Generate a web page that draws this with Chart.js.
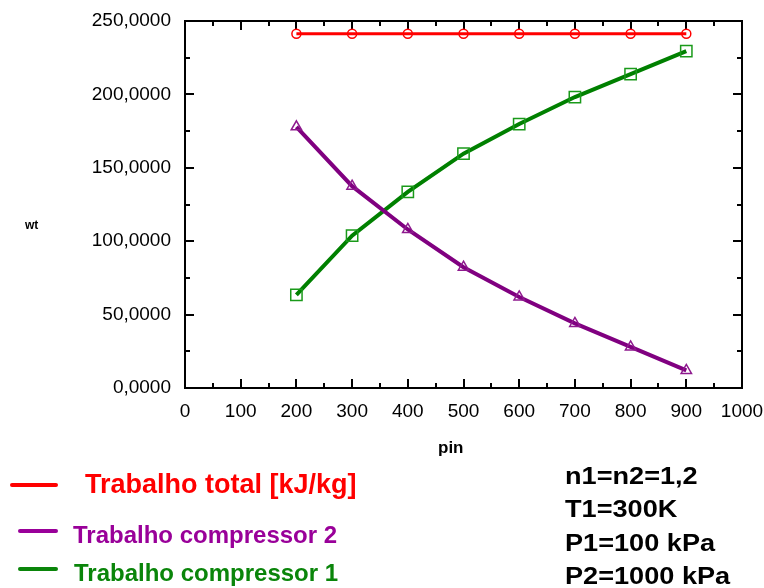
<!DOCTYPE html>
<html>
<head>
<meta charset="utf-8">
<script src="https://cdn.jsdelivr.net/npm/chart.js@4/dist/chart.umd.min.js"></script>
<style>
  body { margin: 0; background: #fff; }
  #wrap { position: relative; width: 764px; height: 588px; overflow: hidden; font-family: "Liberation Sans", Arial, sans-serif; }
  #chart { position: absolute; left: 0; top: 0; }
  .txt { position: absolute; white-space: nowrap; line-height: 1; font-weight: bold; }
  .key { position: absolute; border-radius: 2px; }
  .note { font-size: 24px; color: #000; transform: scaleX(1.13); transform-origin: left top; left: 565px; }
</style>
</head>
<body>
<div id="wrap">
  <canvas id="chart" width="764" height="588"></canvas>
  <div class="txt" style="left:25px;top:219px;font-size:12px;">wt</div>
  <div class="txt" style="left:438px;top:439px;font-size:17px;">pin</div>

  <div class="key" style="left:10px;top:483px;width:48px;height:4px;background:#ff0000;"></div>
  <div class="txt" style="left:85px;top:471px;font-size:27px;color:#ff0000;">Trabalho total [kJ/kg]</div>
  <div class="key" style="left:18px;top:529px;width:40px;height:4px;background:#990099;"></div>
  <div class="txt" style="left:73px;top:523px;font-size:24px;color:#990099;">Trabalho compressor 2</div>
  <div class="key" style="left:18px;top:567px;width:40px;height:4px;background:#0a850a;"></div>
  <div class="txt" style="left:74px;top:561px;font-size:24px;color:#0a850a;">Trabalho compressor 1</div>

  <div class="txt note" style="top:464px;">n1=n2=1,2</div>
  <div class="txt note" style="top:497px;">T1=300K</div>
  <div class="txt note" style="top:531px;">P1=100 kPa</div>
  <div class="txt note" style="top:564px;">P2=1000 kPa</div>
</div>
<script>
const pin = [200, 300, 400, 500, 600, 700, 800, 900];
const trabalhoTotal = [241.3, 241.3, 241.3, 241.3, 241.3, 241.3, 241.3, 241.3];
const trabalhoComp2 = [177.9, 137.5, 108.0, 82.3, 62.0, 44.0, 28.0, 12.0];
const trabalhoComp1 = [63.5, 103.8, 133.6, 159.6, 179.8, 198.2, 213.8, 229.5];
const xTickLabels = ['0', '100', '200', '300', '400', '500', '600', '700', '800', '900', '1000'];
const yTickLabels = ['0,0000', '50,0000', '100,0000', '150,0000', '200,0000', '250,0000'];

function toPoints(values) {
  return values.map((v, i) => ({x: pin[i], y: v}));
}

// moldura e marcas de escala para dentro, nos quatro lados
const frameTicks = {
  id: 'frameTicks',
  beforeDatasetsDraw(chart) {
    const ctx = chart.ctx;
    const {left, right, top, bottom} = chart.chartArea;
    const sx = chart.scales.x, sy = chart.scales.y;
    ctx.save();
    ctx.strokeStyle = '#000';
    ctx.lineWidth = 2;
    for (let v = sx.min; v <= sx.max; v += 50) {
      const px = Math.round(sx.getPixelForValue(v));
      const len = v % 100 === 0 ? 9 : 5;
      ctx.beginPath();
      ctx.moveTo(px, bottom); ctx.lineTo(px, bottom - len);
      ctx.moveTo(px, top); ctx.lineTo(px, top + len);
      ctx.stroke();
    }
    for (let v = sy.min; v <= sy.max; v += 25) {
      const py = Math.round(sy.getPixelForValue(v));
      const len = v % 50 === 0 ? 9 : 5;
      ctx.beginPath();
      ctx.moveTo(left, py); ctx.lineTo(left + len, py);
      ctx.moveTo(right, py); ctx.lineTo(right - len, py);
      ctx.stroke();
    }
    ctx.strokeRect(left, top, right - left, bottom - top);
    ctx.restore();
  }
};

const tickFont = {family: '"Liberation Sans", Arial, sans-serif', size: 19};

new Chart(document.getElementById('chart'), {
  type: 'line',
  data: {
    datasets: [
      {label: 'Trabalho total [kJ/kg]', data: toPoints(trabalhoTotal), borderColor: '#ff0000', borderWidth: 3,
       pointStyle: 'circle', pointRadius: 4.5, pointBorderColor: '#ff0000', pointBackgroundColor: 'rgba(0,0,0,0)', pointBorderWidth: 1.5},
      {label: 'Trabalho compressor 2', data: toPoints(trabalhoComp2), borderColor: '#800080', borderWidth: 4,
       pointStyle: 'triangle', pointRadius: 6, pointBorderColor: '#8e1a8e', pointBackgroundColor: 'rgba(0,0,0,0)', pointBorderWidth: 1.5},
      {label: 'Trabalho compressor 1', data: toPoints(trabalhoComp1), borderColor: '#008000', borderWidth: 4,
       pointStyle: 'rect', pointRadius: 8, pointBorderColor: '#1a9a1a', pointBackgroundColor: 'rgba(0,0,0,0)', pointBorderWidth: 1.5}
    ]
  },
  options: {
    responsive: false,
    animation: false,
    layout: {padding: {top: 21, right: 22, bottom: 0, left: 0}},
    plugins: {legend: {display: false}, tooltip: {enabled: false}},
    scales: {
      x: {
        type: 'linear', min: 0, max: 1000,
        grid: {display: false, drawTicks: false}, border: {display: false},
        ticks: {stepSize: 100, padding: 12, color: '#000', font: tickFont, maxRotation: 0,
                callback: (v, i) => xTickLabels[i]},
        afterFit: s => { s.height = 200; s.paddingLeft = 0; s.paddingRight = 0; }
      },
      y: {
        min: 0, max: 250,
        grid: {display: false, drawTicks: false}, border: {display: false},
        ticks: {stepSize: 50, padding: 14, color: '#000', font: tickFont,
                callback: (v, i) => yTickLabels[i]},
        afterFit: s => { s.width = 185; s.paddingTop = 0; s.paddingBottom = 0; }
      }
    }
  },
  plugins: [frameTicks]
});
</script>
</body>
</html>
